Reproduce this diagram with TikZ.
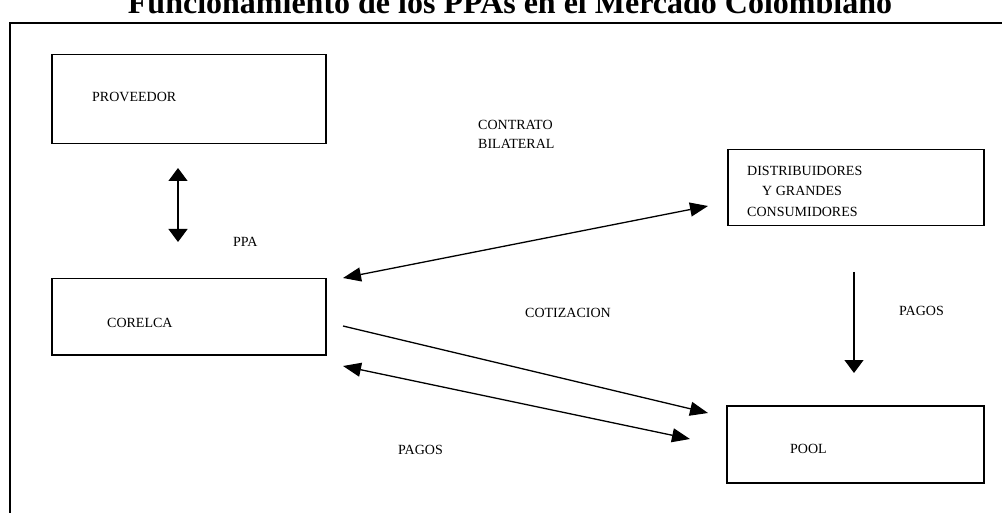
\documentclass[tikz,border=0pt]{standalone}
\usepackage{fontspec}
\setmainfont{Liberation Serif}
\usetikzlibrary{arrows.meta}
\tikzset{
  vtip/.tip={Triangle[width=19pt,length=13pt]},
  dtip/.tip={Triangle[width=14pt,length=18pt]}
}
\begin{document}
\begin{tikzpicture}[x=1pt,y=-1pt,
  box/.style={draw, line width=1.5pt, inner sep=0pt, anchor=north west},
  lbl/.style={font=\fontsize{14}{16}\selectfont, inner sep=0pt, anchor=base west},
  conn/.style={line width=1.3pt}
]
\useasboundingbox (0,0) rectangle (1002,513);
\clip (0,0) rectangle (1002,513);
% title and frame
\node[font=\fontsize{32}{35}\selectfont\bfseries, inner sep=0pt, anchor=base] (title) at (510,14) {Funcionamiento de los PPAs en el Mercado Colombiano};
\node[draw, line width=2pt, inner sep=0pt, anchor=north west, minimum width=1050pt, minimum height=560pt] (frame) at (9,22) {};
% boxes
\node[box, minimum width=274pt, minimum height=89pt] (prov) at (51,54) {};
\node[box, minimum width=274pt, minimum height=76pt] (corelca) at (51,278) {};
\node[box, minimum width=256pt, minimum height=76pt] (dist) at (727,149) {};
\node[box, minimum width=257pt, minimum height=77pt] (pool) at (726,405) {};
% texts
\node[lbl] (tprov) at (92,102) {PROVEEDOR};
\node[lbl] (tcor) at (107,327) {CORELCA};
\node[lbl] (tppa) at (233,247) {PPA};
\node[lbl] (tcon1) at (478,130) {CONTRATO};
\node[lbl] (tcon2) at (478,149) {BILATERAL};
\node[lbl] (td1) at (747,176) {DISTRIBUIDORES};
\node[lbl] (td2) at (762,196) {Y GRANDES};
\node[lbl] (td3) at (747,217) {CONSUMIDORES};
\node[lbl] (tcot) at (525,317) {COTIZACION};
\node[lbl] (tpag1) at (398,454) {PAGOS};
\node[lbl] (tpag2) at (899,316) {PAGOS};
\node[lbl] (tpool) at (790,453) {POOL};
% connector ends
\coordinate (a1) at (178,168); \coordinate (a2) at (178,242);
\coordinate (b1) at (343,278); \coordinate (b2) at (708,206);
\coordinate (c1) at (343,326); \coordinate (c2) at (708,413);
\coordinate (d1) at (343,366); \coordinate (d2) at (690,439);
\coordinate (e1) at (854,272); \coordinate (e2) at (854,373);
% connectors
\draw[conn, vtip-vtip] (a1) -- (a2);
\draw[conn, dtip-dtip] (b1) -- (b2);
\draw[conn, -dtip] (c1) -- (c2);
\draw[conn, dtip-dtip] (d1) -- (d2);
\draw[conn, -vtip] (e1) -- (e2);
\end{tikzpicture}
\end{document}
